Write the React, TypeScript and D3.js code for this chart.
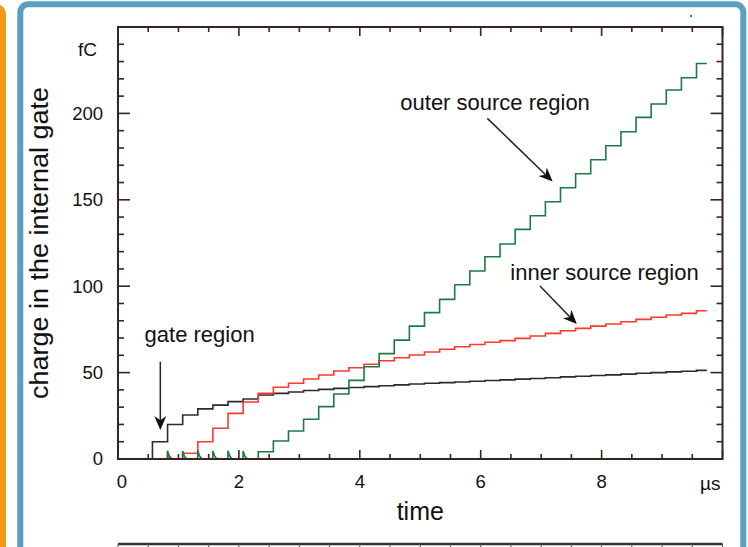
import * as d3 from "d3";
import * as React from "react";

const width = 748;
const height = 547;

// pulse arrival times (µs): every trace steps up at these instants
const stepTimes = [
  0.57, 0.82, 1.07, 1.32, 1.57, 1.82, 2.07, 2.32, 2.57, 2.82, 3.07, 3.32, 3.57,
  3.82, 4.07, 4.32, 4.57, 4.82, 5.07, 5.32, 5.57, 5.82, 6.07, 6.32, 6.57, 6.82,
  7.07, 7.32, 7.57, 7.82, 8.07, 8.32, 8.57, 8.82, 9.07, 9.32, 9.57,
];
const endTime = 9.74;

// charge (fC) after each pulse
const gateCharge = [
  10, 20, 25.5, 29, 31.2, 33.2, 34.7, 37, 38, 38.8, 39.6, 40.3, 40.9, 41.4, 41.9,
  42.4, 42.9, 43.4, 43.8, 44.2, 44.6, 45, 45.4, 45.8, 46.2, 46.6, 47, 47.5, 47.9,
  48.3, 48.7, 49.1, 49.6, 50, 50.4, 50.8, 51.3,
];
const innerSourceCharge = [
  0, 0, 3.3, 10, 17.8, 26.4, 33, 38, 41.5, 43.8, 46.3, 48.6, 50.9, 52.8, 54.8,
  56.9, 58.6, 60.2, 61.9, 63.5, 65, 66.3, 67.6, 68.5, 69.8, 71.2, 72.7, 74.2,
  75.6, 76.9, 78.1, 79.4, 80.8, 82, 83.3, 84.3, 85.8,
];
const outerSourceCharge = [
  0, 0, 0, 0, 0, 0, 0, 4.2, 10.4, 16.2, 23, 30.3, 37.6, 45.5, 53.4, 61, 68.8,
  76.9, 84.7, 92.4, 100.8, 108.8, 117, 124.4, 132.9, 140.8, 148.9, 157, 165.1,
  173.2, 181.3, 189.4, 197.7, 205.4, 213.5, 220.6, 228.9,
];

// induced transient spikes before the charge arrives
const outerSpikeTimes = [0.82, 1.07, 1.32, 1.57, 1.82, 2.07];
const outerSpikeHeights = [4.8, 4.6, 4.9, 4.7, 4.8, 4.6];
const innerSpikeTimes = [0.82];
const innerSpikeHeights = [2.5];

const xLabelValues = [0, 2, 4, 6, 8];
const yLabelValues = [0, 50, 100, 150, 200];

const annotations = [
  { text: "outer source region", tx: 4.67, ty: 202, from: [6.11, 197.1], to: [7.19, 160.6] },
  { text: "inner source region", tx: 6.49, ty: 103.6, from: [6.98, 100.1], to: [7.59, 78.1] },
  { text: "gate region", tx: 0.44, ty: 67.7, from: [0.7, 56.3], to: [0.7, 16.8] },
];

const font = "'Liberation Sans', Arial, Helvetica, sans-serif";
const axisColor = "#3b2320";

function tracePoints(values: number[], spikeT: number[], spikeH: number[]) {
  const events: { t: number; v?: number; h?: number }[] = [];
  stepTimes.forEach((t, i) => events.push({ t, v: values[i] }));
  spikeT.forEach((t, i) => events.push({ t: t - 0.001, h: spikeH[i] }));
  events.sort((a, b) => a.t - b.t);
  const pts: [number, number][] = [[0, 0]];
  let level = 0;
  for (const e of events) {
    if (e.h !== undefined) {
      pts.push([e.t, level], [e.t, level + e.h], [e.t + 0.03, level + e.h * 0.35], [e.t + 0.07, level]);
    } else if (e.v !== level) {
      pts.push([e.t, level], [e.t, e.v as number]);
      level = e.v as number;
    }
  }
  pts.push([endTime, level]);
  return pts;
}

export default function App() {
  const x = d3.scaleLinear().domain([0, 10]).range([118, 722.5]);
  const y = d3.scaleLinear().domain([0, 250]).range([459, 27]);

  const line = d3
    .line<[number, number]>()
    .x((d) => x(d[0]))
    .y((d) => y(d[1]));

  const series = [
    { color: "#2b2b2b", pts: tracePoints(gateCharge, [], []) },
    { color: "#ff3a2c", pts: tracePoints(innerSourceCharge, innerSpikeTimes, innerSpikeHeights) },
    { color: "#1d7a47", pts: tracePoints(outerSourceCharge, outerSpikeTimes, outerSpikeHeights) },
  ];

  const xTicks = x.ticks(20);
  const yTicks = y.ticks(25);
  const x0 = x(0), x1 = x(10), y0 = y(0), y1 = y(250);

  const arrowHead = (from: number[], to: number[]) => {
    const ax = x(from[0]), ay = y(from[1]), bx = x(to[0]), by = y(to[1]);
    const ang = Math.atan2(by - ay, bx - ax);
    const len = 14, half = 6;
    const cx = bx - len * Math.cos(ang), cy = by - len * Math.sin(ang);
    const nx = -Math.sin(ang), ny = Math.cos(ang);
    const mx = bx - len * 0.7 * Math.cos(ang), my = by - len * 0.7 * Math.sin(ang);
    return {
      line: [ax, ay, mx, my],
      head: `M${bx},${by}L${cx + nx * half},${cy + ny * half}L${mx},${my}L${cx - nx * half},${cy - ny * half}Z`,
    };
  };

  return (
    <svg
      width={width}
      height={height}
      style={{ position: "absolute", left: 0, top: 0, background: "#fff" }}
      fontFamily={font}
    >
      {/* slide frames */}
      <rect x={-20} y={7} width={23} height={600} rx={7} fill="none" stroke="#f29b11" strokeWidth={6} />
      <rect x={20.3} y={4.3} width={723} height={600} rx={8} fill="#fff" stroke="#5a9ec0" strokeWidth={6} />
      <circle cx={691} cy={16} r={1} fill="#1a4a70" />

      {/* traces */}
      {series.map((s, i) => (
        <path key={i} d={line(s.pts) as string} fill="none" stroke={s.color} strokeWidth={1.6} />
      ))}

      {/* axis box with inward ticks */}
      <rect x={x0} y={y1} width={x1 - x0} height={y0 - y1} fill="none" stroke={axisColor} strokeWidth={2} />
      {xTicks.map((t) => {
        const len = t % 2 === 0 ? 9 : 5;
        return (
          <g key={"xt" + t} stroke={axisColor} strokeWidth={1.6}>
            <line x1={x(t)} x2={x(t)} y1={y0} y2={y0 - len} />
            <line x1={x(t)} x2={x(t)} y1={y1} y2={y1 + len} />
          </g>
        );
      })}
      {yTicks.map((v) => {
        const len = v % 50 === 0 ? 12 : 6;
        return (
          <g key={"yt" + v} stroke={axisColor} strokeWidth={1.6}>
            <line x1={x0} x2={x0 + len} y1={y(v)} y2={y(v)} />
            <line x1={x1} x2={x1 - len} y1={y(v)} y2={y(v)} />
          </g>
        );
      })}

      {/* tick labels */}
      {xLabelValues.map((t) => (
        <text key={"xl" + t} x={x(t) + (t === 0 ? 4 : 0)} y={488} fontSize={18.5} textAnchor="middle" fill="#111">
          {t}
        </text>
      ))}
      <text x={x1 - 2} y={490} fontSize={19} textAnchor="end" fill="#111">
        µs
      </text>
      {yLabelValues.map((v) => (
        <text key={"yl" + v} x={103} y={y(v)} dy="0.35em" fontSize={18.5} textAnchor="end" fill="#111">
          {v}
        </text>
      ))}
      <text x={97} y={y(237)} dy="0.35em" fontSize={19} textAnchor="end" fill="#111">
        fC
      </text>

      {/* axis titles */}
      <text x={(x0 + x1) / 2} y={520} fontSize={25} textAnchor="middle" fill="#111">
        time
      </text>
      <text
        transform={`translate(48,${(y0 + y1) / 2}) rotate(-90)`}
        fontSize={25.5}
        textAnchor="middle"
        textLength={312}
        lengthAdjust="spacingAndGlyphs"
        fill="#111"
      >
        charge in the internal gate
      </text>

      {/* annotations */}
      {annotations.map((a) => {
        const ar = arrowHead(a.from, a.to);
        return (
          <g key={a.text}>
            <text x={x(a.tx)} y={y(a.ty)} fontSize={22} fill="#111">
              {a.text}
            </text>
            <line x1={ar.line[0]} y1={ar.line[1]} x2={ar.line[2]} y2={ar.line[3]} stroke="#222" strokeWidth={1.5} />
            <path d={ar.head} fill="#111" />
          </g>
        );
      })}

      {/* top edge of the next panel */}
      <line x1={x0} x2={x1} y1={544} y2={544} stroke="#333" strokeWidth={2.5} />
      {xTicks.map((t) => (
        <line key={"bt" + t} x1={x(t)} x2={x(t)} y1={544} y2={547} stroke="#555" strokeWidth={1} />
      ))}
    </svg>
  );
}
